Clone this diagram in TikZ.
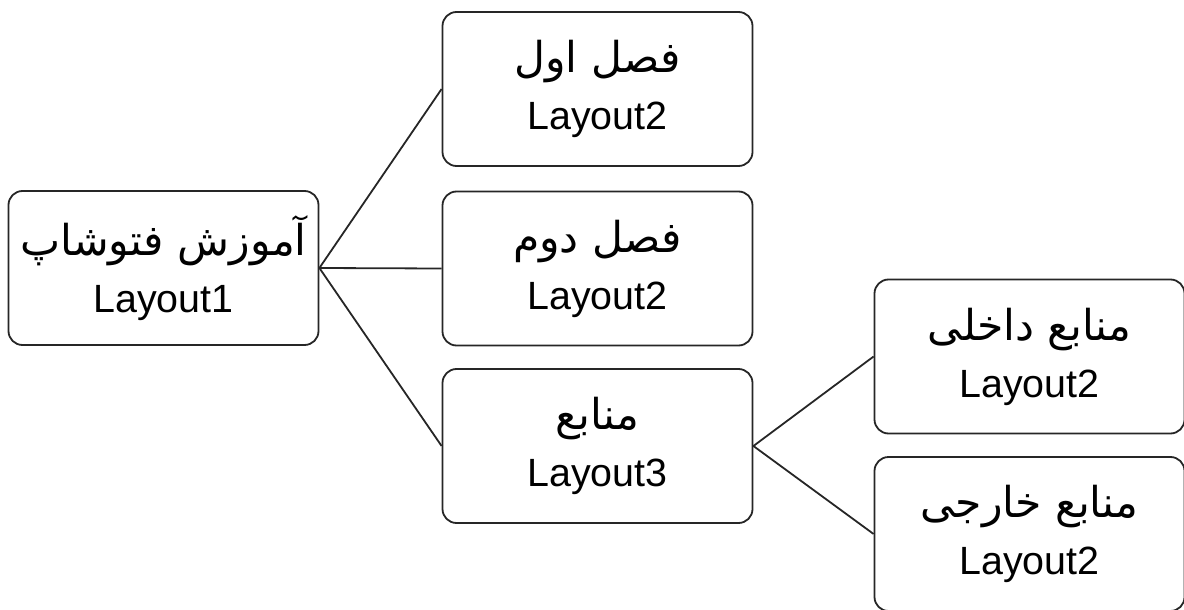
\documentclass[tikz,border=0pt]{standalone}
\usepackage{fontspec}
\setmainfont{Liberation Sans}
\newfontfamily\fa[Script=Arabic,Scale=1.08]{DejaVu Sans}
\TeXXeTstate=1
\begin{document}
\begin{tikzpicture}[x=0.5pt,y=-0.5pt,
  box/.style={draw=black!85,line width=0.9pt,rounded corners=7pt,minimum width=155pt,minimum height=77pt,inner sep=0pt,align=center,font=\fontsize{19.7}{28.5}\selectfont},
  link/.style={draw=black!85,line width=0.9pt}]
\useasboundingbox (0,0) rectangle (1184,610);
\node[box] (root) at (163.5,268) {{\fa\beginR آموزش فتوشاپ\endR}\\Layout1};
\node[box] (a) at (597.5,89) {{\fa\beginR فصل اول\endR}\\Layout2};
\node[box] (b) at (597.5,268.5) {{\fa\beginR فصل دوم\endR}\\Layout2};
\node[box] (c) at (597.5,446) {{\fa\beginR منابع\endR}\\Layout3};
\node[box] (d) at (1029.5,356.5) {{\fa\beginR منابع داخلی\endR}\\Layout2};
\node[box] (e) at (1029.5,534) {{\fa\beginR منابع خارجی\endR}\\Layout2};
\draw[link] (root.east) -- (a.west);
\draw[link] (root.east) -- (b.west);
\draw[link] (root.east) -- (c.west);
\draw[link] (c.east) -- (d.west);
\draw[link] (c.east) -- (e.west);
\end{tikzpicture}
\end{document}
